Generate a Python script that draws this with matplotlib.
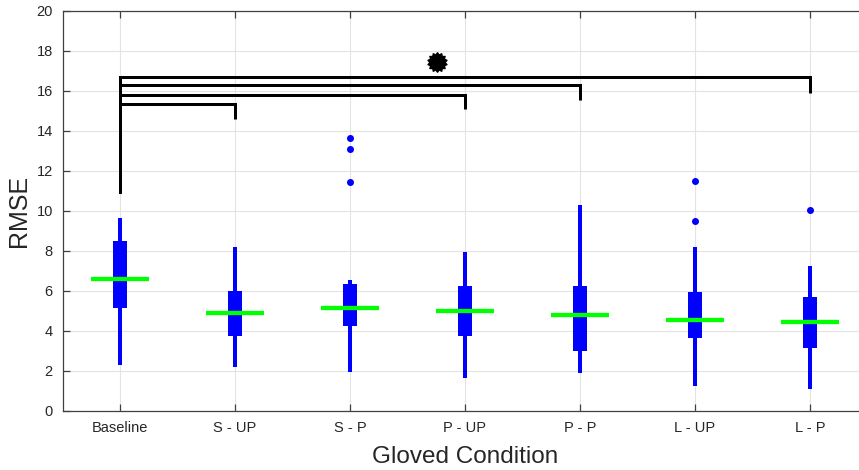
import matplotlib
matplotlib.use("Agg")
import matplotlib.pyplot as plt
import numpy as np
from matplotlib.path import Path

plt.rcParams['font.family'] = ['Liberation Sans', 'DejaVu Sans']

conditions = ["Baseline", "S - UP", "S - P", "P - UP", "P - P", "L - UP", "L - P"]
whisker_low = [2.32, 2.22, 1.95, 1.67, 1.88, 1.25, 1.10]
q1 = [5.17, 3.77, 4.25, 3.77, 2.98, 3.63, 3.17]
median = [6.62, 4.90, 5.17, 5.00, 4.80, 4.57, 4.45]
q3 = [8.52, 6.02, 6.33, 6.27, 6.27, 5.93, 5.72]
whisker_high = [9.67, 8.22, 6.55, 7.97, 10.28, 8.18, 7.23]
outliers = [[], [], [13.67, 13.08, 11.45], [], [], [11.48, 9.50], [10.05]]

# significance brackets from Baseline: (target index, bar level, drop end)
bracket_target = [2, 4, 5, 7]
bracket_level = [15.33, 15.78, 16.30, 16.68]
bracket_end = [14.58, 15.08, 15.55, 15.90]
bracket_start_low = 10.93
star_pos = (3.76, 17.45)

blue = "#0000ff"
green = "#00ff00"
axis_col = "#404040"
text_col = "#262626"

fig = plt.figure(figsize=(8.59, 4.70), dpi=100)
ax = fig.add_axes([62.5 / 859, 59 / 470, 805 / 859, 400 / 470])

x = np.arange(1, len(conditions) + 1)
px = 72 / 100  # points per pixel

ax.vlines(x, whisker_low, whisker_high, color=blue, lw=4 * px, zorder=3)
ax.bar(x, np.array(q3) - np.array(q1), bottom=q1, width=0.13,
       color=blue, edgecolor=blue, lw=0, zorder=4)
ax.hlines(median, x - 0.25, x + 0.25, color=green, lw=4.3 * px, zorder=5)
for xi, vals in zip(x, outliers):
    if vals:
        ax.scatter([xi] * len(vals), vals, s=(7 * px) ** 2, color=blue,
                   zorder=5, linewidths=0)

# brackets
ax.vlines(1, bracket_start_low, max(bracket_level), color="black",
          lw=3 * px, zorder=6, capstyle="projecting")
for t, lvl, end in zip(bracket_target, bracket_level, bracket_end):
    ax.plot([1, t, t], [lvl, lvl, end], color="black", lw=3 * px,
            zorder=6, solid_joinstyle="miter", solid_capstyle="butt")

# spiky star marker
n = 14
ang = np.linspace(0, 2 * np.pi, 2 * n, endpoint=False) + np.pi / 2
rad = np.where(np.arange(2 * n) % 2 == 0, 1.0, 0.78)
verts = np.column_stack([rad * np.cos(ang), rad * np.sin(ang)])
verts = np.vstack([verts, verts[:1]])
star = Path(verts, closed=True)
ax.plot([star_pos[0]], [star_pos[1]], marker=star, markersize=14,
        color="black", zorder=7, linestyle="none")

ax.set_xlim(0.5, 7.5)
ax.set_ylim(0, 20)
ax.set_xticks(x)
ax.set_xticklabels(conditions)
ax.set_yticks(np.arange(0, 21, 2))
ax.grid(True, color="#e3e3e3", lw=0.8)
ax.set_axisbelow(True)
for s in ax.spines.values():
    s.set_color(axis_col)
    s.set_linewidth(0.9)
ax.tick_params(direction="in", length=5, width=0.9, color=axis_col,
               labelcolor=text_col, labelsize=10.5, top=True, right=True,
               pad=7)
ax.set_xlabel("Gloved Condition", fontsize=17.5, color=text_col, labelpad=8)
ax.set_ylabel("RMSE", fontsize=18, color=text_col, labelpad=4)

fig.savefig("out.png", dpi=100)
